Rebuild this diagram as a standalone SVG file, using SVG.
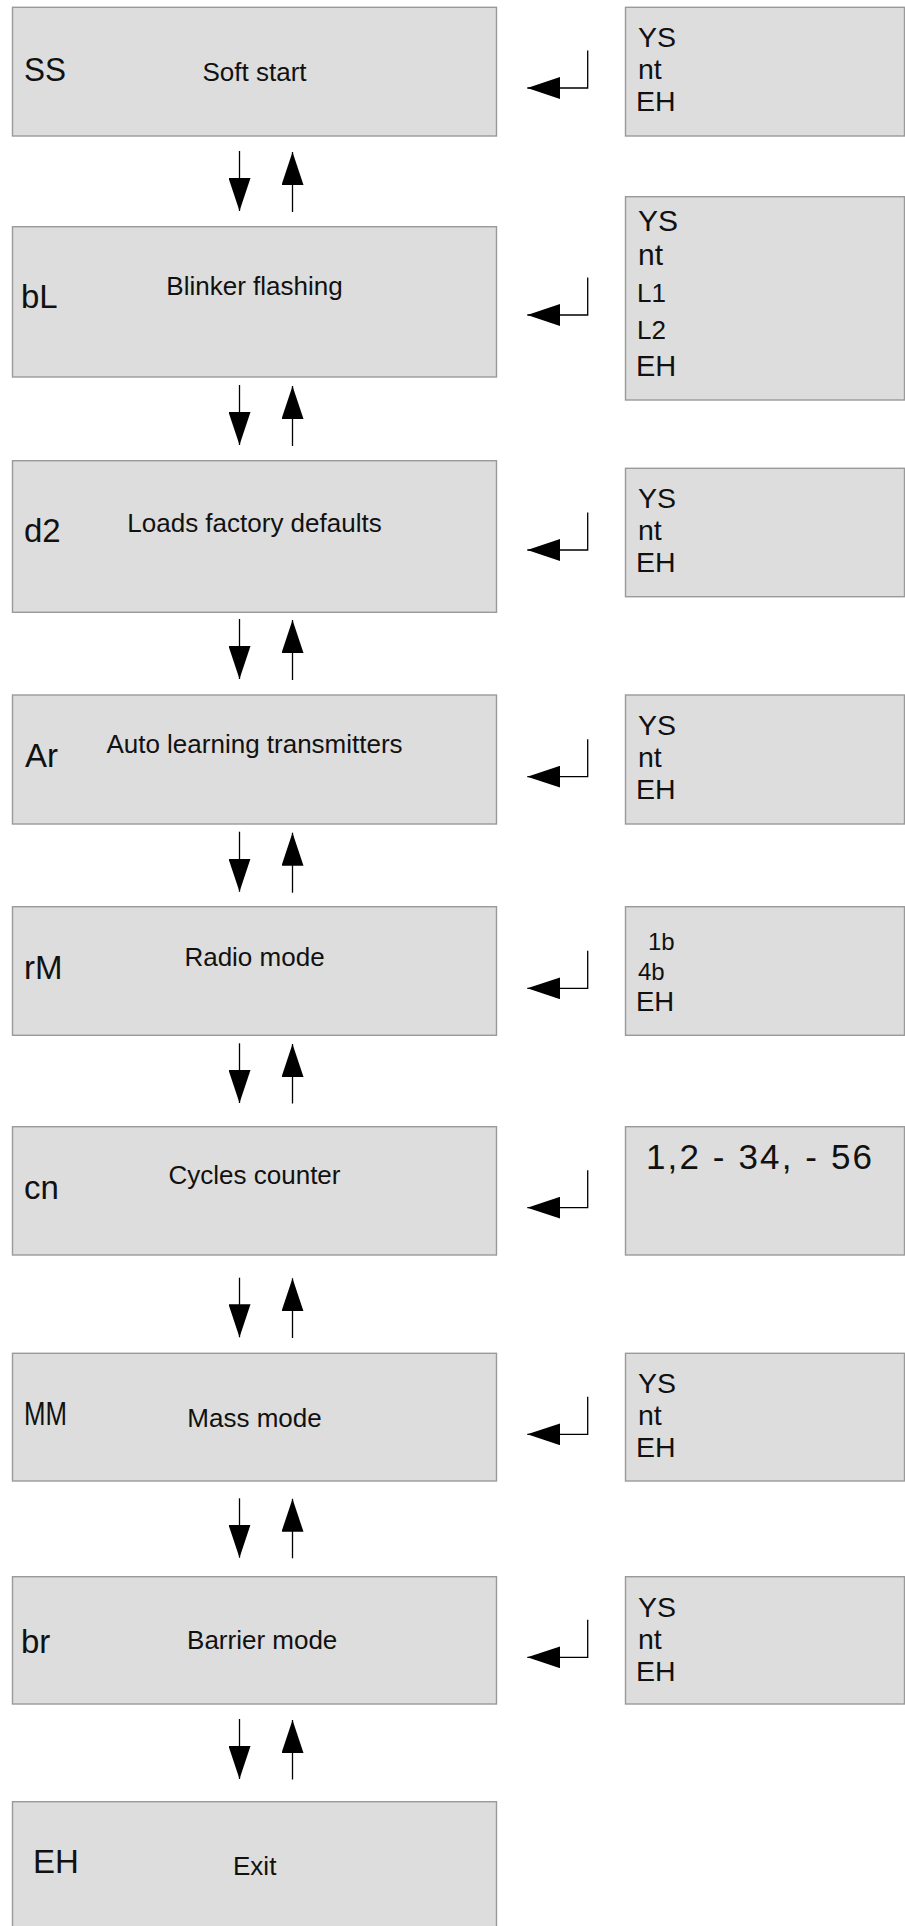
<svg xmlns="http://www.w3.org/2000/svg" width="905" height="1926" viewBox="0 0 905 1926">
<style>
  .box { fill: #dddddd; stroke: #9a9a9a; stroke-width: 1.4; }
  .lbl { font-family: "Liberation Sans", Arial, sans-serif; font-size: 26px; fill: #111; text-anchor: middle; }
  .seg { font-family: "Liberation Sans", Arial, sans-serif; fill: #111; }
  .code { font-size: 33px; }
  .opt { font-size: 28.5px; }
  .wire { stroke: #000; stroke-width: 1.3; fill: none; marker-end: url(#ah); }
</style>
<defs>
  <marker id="ah" viewBox="0 0 33 22" markerWidth="33" markerHeight="22" refX="33" refY="11" orient="auto" markerUnits="userSpaceOnUse">
    <path d="M0,0 L33,11 L0,22 z" fill="#000"/>
  </marker>
</defs>
<rect width="905" height="1926" fill="#ffffff"/>

<g id="node-ss">
  <rect class="box" x="12.5" y="7.3" width="484" height="128.7"/>
  <text class="seg code" x="24" y="81" textLength="42" lengthAdjust="spacingAndGlyphs">SS</text>
  <text class="lbl" x="254.5" y="81">Soft start</text>
</g>
<g id="node-ss-options">
  <rect class="box" x="625.5" y="7.3" width="279" height="128.7"/>
  <text class="seg opt" x="638" y="47.3">YS</text>
  <text class="seg opt" x="638" y="79.3">nt</text>
  <text class="seg opt" x="636" y="111.3">EH</text>
</g>

<g id="node-bl">
  <rect class="box" x="12.5" y="226.7" width="484" height="150.3"/>
  <text class="seg code" x="21" y="308">bL</text>
  <text class="lbl" x="254.5" y="295">Blinker flashing</text>
</g>
<g id="node-bl-options">
  <rect class="box" x="625.5" y="196.7" width="279" height="203.3"/>
  <text class="seg" font-size="30" x="638" y="231">YS</text>
  <text class="seg" font-size="30" x="638" y="265">nt</text>
  <text class="seg" font-size="26" x="637" y="301.7">L1</text>
  <text class="seg" font-size="26" x="637" y="339">L2</text>
  <text class="seg" font-size="29" x="636" y="375.7">EH</text>
</g>

<g id="node-d2">
  <rect class="box" x="12.5" y="460.7" width="484" height="151.6"/>
  <text class="seg code" x="24" y="541.7">d2</text>
  <text class="lbl" x="254.5" y="531.7">Loads factory defaults</text>
</g>
<g id="node-d2-options">
  <rect class="box" x="625.5" y="468.3" width="279" height="128.4"/>
  <text class="seg opt" x="638" y="508.3">YS</text>
  <text class="seg opt" x="638" y="540.3">nt</text>
  <text class="seg opt" x="636" y="572.3">EH</text>
</g>

<g id="node-ar">
  <rect class="box" x="12.5" y="695" width="484" height="129"/>
  <text class="seg code" x="25" y="767.3">Ar</text>
  <text class="lbl" x="254.5" y="753">Auto learning transmitters</text>
</g>
<g id="node-ar-options">
  <rect class="box" x="625.5" y="695" width="279" height="129"/>
  <text class="seg opt" x="638" y="735">YS</text>
  <text class="seg opt" x="638" y="767">nt</text>
  <text class="seg opt" x="636" y="799">EH</text>
</g>

<g id="node-rm">
  <rect class="box" x="12.5" y="906.7" width="484" height="128.6"/>
  <text class="seg code" x="24" y="979">rM</text>
  <text class="lbl" x="254.5" y="966">Radio mode</text>
</g>
<g id="node-rm-options">
  <rect class="box" x="625.5" y="906.7" width="279" height="128.6"/>
  <text class="seg" font-size="24" x="648" y="950">1b</text>
  <text class="seg" font-size="24" x="638" y="980">4b</text>
  <text class="seg" font-size="27.5" x="636" y="1011">EH</text>
</g>

<g id="node-cn">
  <rect class="box" x="12.5" y="1126.7" width="484" height="128.3"/>
  <text class="seg code" x="24" y="1199.3">cn</text>
  <text class="lbl" x="254.5" y="1184">Cycles counter</text>
</g>
<g id="node-cn-options">
  <rect class="box" x="625.5" y="1126.7" width="279" height="128.3"/>
  <text class="seg" font-size="35" x="646" y="1169.3" textLength="226" lengthAdjust="spacing">1,2 - 34, - 56</text>
</g>

<g id="node-mm">
  <rect class="box" x="12.5" y="1353.3" width="484" height="127.7"/>
  <text class="seg code" x="24" y="1425" textLength="43" lengthAdjust="spacingAndGlyphs">MM</text>
  <text class="lbl" x="254.5" y="1426.7">Mass mode</text>
</g>
<g id="node-mm-options">
  <rect class="box" x="625.5" y="1353.3" width="279" height="127.7"/>
  <text class="seg opt" x="638" y="1393.3">YS</text>
  <text class="seg opt" x="638" y="1425.3">nt</text>
  <text class="seg opt" x="636" y="1457.3">EH</text>
</g>

<g id="node-br">
  <rect class="box" x="12.5" y="1576.7" width="484" height="127.3"/>
  <text class="seg code" x="21" y="1652.7">br</text>
  <text class="lbl" x="262.2" y="1649.3">Barrier mode</text>
</g>
<g id="node-br-options">
  <rect class="box" x="625.5" y="1576.7" width="279" height="127.3"/>
  <text class="seg opt" x="638" y="1616.7">YS</text>
  <text class="seg opt" x="638" y="1648.7">nt</text>
  <text class="seg opt" x="636" y="1680.7">EH</text>
</g>

<g id="node-eh">
  <rect class="box" x="12.5" y="1801.7" width="484" height="140"/>
  <text class="seg code" x="33" y="1873.3">EH</text>
  <text class="lbl" x="254.7" y="1875">Exit</text>
</g>

<g id="connectors">
  <line class="wire" x1="239.5" y1="151" x2="239.5" y2="211"/>
  <line class="wire" x1="292.5" y1="212" x2="292.5" y2="152"/>
  <line class="wire" x1="239.5" y1="385" x2="239.5" y2="445"/>
  <line class="wire" x1="292.5" y1="446" x2="292.5" y2="386"/>
  <line class="wire" x1="239.5" y1="619" x2="239.5" y2="679"/>
  <line class="wire" x1="292.5" y1="680" x2="292.5" y2="620"/>
  <line class="wire" x1="239.5" y1="831.7" x2="239.5" y2="891.7"/>
  <line class="wire" x1="292.5" y1="892.7" x2="292.5" y2="832.7"/>
  <line class="wire" x1="239.5" y1="1043.3" x2="239.5" y2="1103"/>
  <line class="wire" x1="292.5" y1="1103.5" x2="292.5" y2="1044"/>
  <line class="wire" x1="239.5" y1="1277.7" x2="239.5" y2="1337.3"/>
  <line class="wire" x1="292.5" y1="1338" x2="292.5" y2="1278.3"/>
  <line class="wire" x1="239.5" y1="1498.3" x2="239.5" y2="1557.7"/>
  <line class="wire" x1="292.5" y1="1558.3" x2="292.5" y2="1498.8"/>
  <line class="wire" x1="239.5" y1="1719" x2="239.5" y2="1779"/>
  <line class="wire" x1="292.5" y1="1779.5" x2="292.5" y2="1720"/>

  <path class="wire" d="M587.7,50.5 V88 H527.3"/>
  <path class="wire" d="M587.7,277.5 V315 H527.3"/>
  <path class="wire" d="M587.7,512.5 V550 H527.3"/>
  <path class="wire" d="M587.7,739.2 V776.7 H527.3"/>
  <path class="wire" d="M587.7,950.8 V988.3 H527.3"/>
  <path class="wire" d="M587.7,1170.2 V1207.7 H527.3"/>
  <path class="wire" d="M587.7,1396.8 V1434.3 H527.3"/>
  <path class="wire" d="M587.7,1619.8 V1657.3 H527.3"/>
</g>
</svg>
